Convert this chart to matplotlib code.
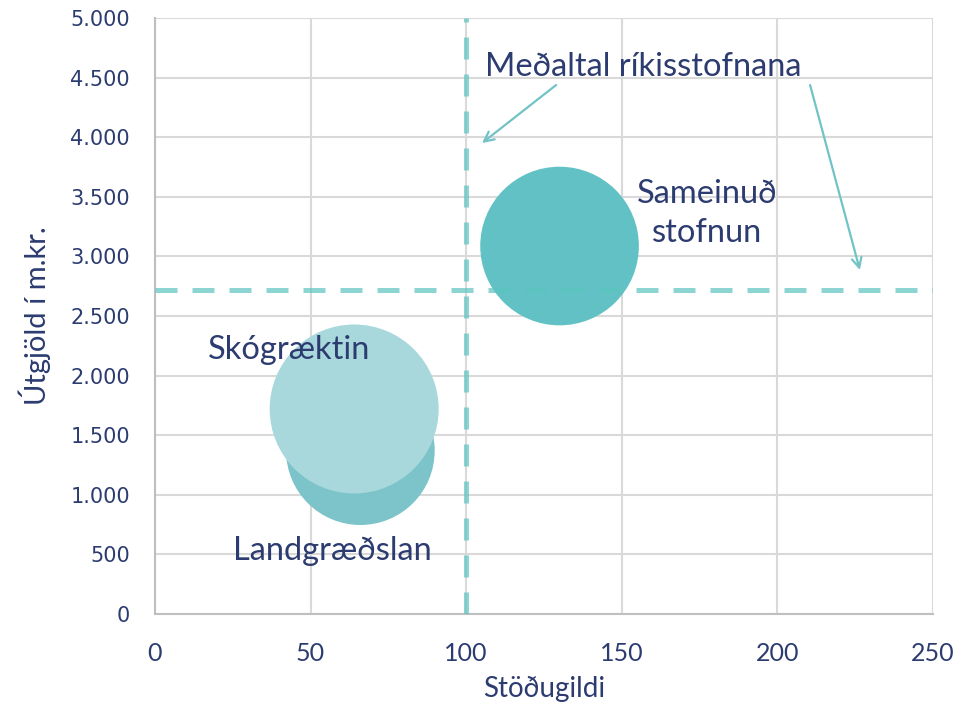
import matplotlib
matplotlib.use("Agg")
import matplotlib.pyplot as plt

# Data
names = ["Landgræðslan", "Skógræktin", "Sameinuð stofnun"]
stodugildi = [66, 64, 130]
utgjold = [1370, 1720, 3087]
bubble_size = [20.8, 26.9, 23.7]
colors = ["#7CC4CA", "#A8D8DC", "#62C1C4"]
avg_x = 100
avg_y = 2720
xticks = [0, 50, 100, 150, 200, 250]
yticks = list(range(0, 5001, 500))
ytick_labels = ["0", "500", "1.000", "1.500", "2.000", "2.500", "3.000", "3.500", "4.000", "4.500", "5.000"]

navy = "#2C3C70"
fig = plt.figure(figsize=(9.57, 7.05), dpi=100)
ax = fig.add_axes([155/957, 91/705, (933-155)/957, (614-18)/705])
ax.set_xlim(0, 250)
ax.set_ylim(0, 5000)

ax.set_xticks(xticks)
ax.set_yticks(yticks)
ax.set_yticklabels(ytick_labels)
ax.grid(True, color="#D9D9D9", linewidth=1.5, zorder=0)
ax.set_axisbelow(True)
for s in ["top", "right"]:
    ax.spines[s].set_visible(False)
for s in ["left", "bottom"]:
    ax.spines[s].set_color("#BFBFBF")
    ax.spines[s].set_linewidth(1.5)
ax.tick_params(length=0)
ax.tick_params(axis="y", pad=18)
ax.tick_params(axis="x", pad=20)
for lab in ax.get_yticklabels():
    lab.set_fontfamily("DejaVu Sans")
    lab.set_fontsize(15)
    lab.set_color(navy)
for lab in ax.get_xticklabels():
    lab.set_fontfamily("Lato")
    lab.set_fontsize(18)
    lab.set_color(navy)

smax = (2 * 84.5 * 0.72) ** 2
mx = max(bubble_size)
sizes = [b / mx * smax for b in bubble_size]
ax.scatter(stodugildi, utgjold, s=sizes, c=colors, linewidths=0, zorder=3)

dash = (0, (4.4, 3.0))
ax.axhline(avg_y, color="#5CC4C0", alpha=0.7, linewidth=3.6, linestyle=dash, zorder=4, dash_capstyle="butt")
ax.axvline(avg_x, color="#5CC4C0", alpha=0.7, linewidth=3.6, linestyle=dash, zorder=4, dash_capstyle="butt")

txtkw = dict(color=navy, fontfamily="Lato", fontsize=23.5, zorder=5)
ax.text(106, 4590, "Meðaltal ríkisstofnana", ha="left", va="center", **txtkw)
ax.text(177.4, 3360, "Sameinuð\nstofnun", ha="center", va="center", linespacing=1.35, **txtkw)
ax.text(17, 2215, "Skógræktin", ha="left", va="center", **txtkw)
ax.text(25, 528, "Landgræðslan", ha="left", va="center", **txtkw)

arrowkw = dict(arrowstyle="->,head_length=0.7,head_width=0.35", color="#72C3C6", lw=1.6, shrinkA=0, shrinkB=0)
ax.annotate("", xy=(105.1, 3951), xytext=(128.9, 4438), arrowprops=arrowkw, zorder=5)
ax.annotate("", xy=(226.5, 2886), xytext=(210.5, 4438), arrowprops=arrowkw, zorder=5)

ax.set_xlabel("Stöðugildi", fontfamily="Lato", fontsize=20, color=navy, labelpad=8)
ax.set_ylabel("Útgjöld í m.kr.", fontfamily="Lato", fontsize=21, color=navy, labelpad=14)

fig.savefig("out.png", dpi=100)
